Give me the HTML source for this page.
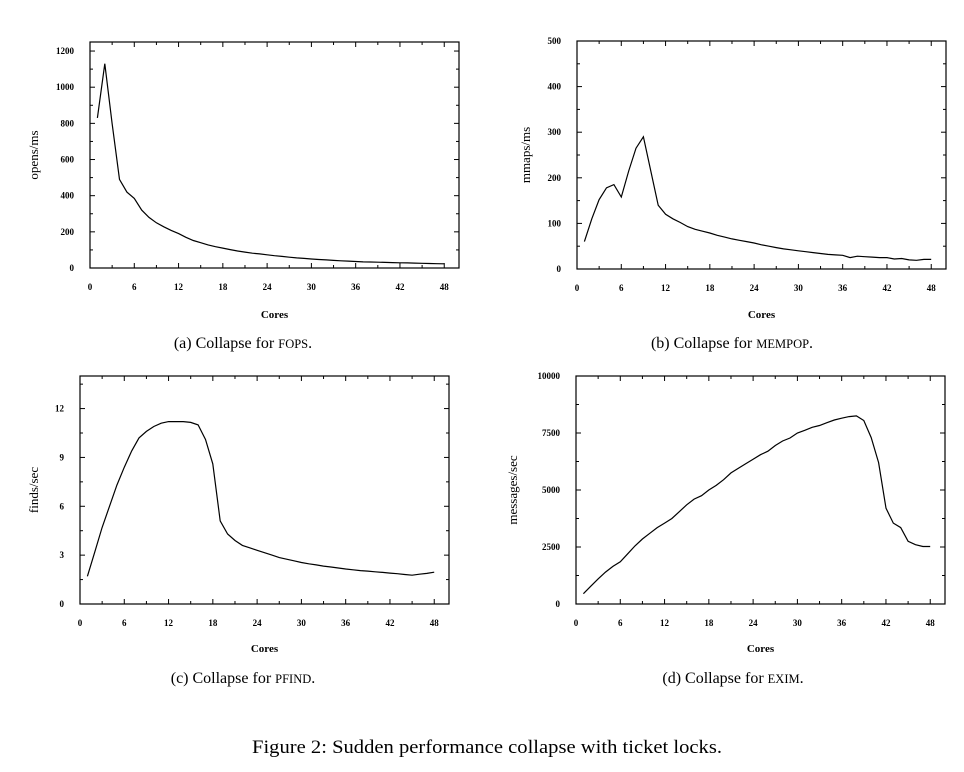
<!DOCTYPE html>
<html><head><meta charset="utf-8"><style>
html,body{margin:0;padding:0;background:#fff;}
svg{display:block;font-family:"Liberation Serif",serif;}
</style></head><body>
<svg id="fig" width="964" height="772" viewBox="0 0 964 772" xmlns="http://www.w3.org/2000/svg">
<text x="487" y="753" font-size="19" text-anchor="middle" textLength="470" lengthAdjust="spacingAndGlyphs">Figure 2: Sudden performance collapse with ticket locks.</text>
</svg>
<script>
const cores = [];
for (let i = 1; i <= 48; i++) cores.push(i);
const xTicks = [0, 6, 12, 18, 24, 30, 36, 42, 48];

const fopsValues = [830,1130,800,490,420,385,320,280,250,228,208,190,170,152,140,128,118,110,102,94,88,82,78,73,68,64,60,56,53,50,47,45,42,40,38,36,34,33,32,31,30,29,28,27,26,25,24,23];
const fopsYTicks = [0,200,400,600,800,1000,1200];

const mempopValues = [60,110,152,178,185,158,215,265,290,215,140,120,110,102,93,87,83,79,74,70,66,63,60,57,53,50,47,44,42,40,38,36,34,32,31,30,25,28,27,26,25,25,22,23,20,19,21,21];
const mempopYTicks = [0,100,200,300,400,500];

const pfindValues = [1.7,3.2,4.7,6.0,7.3,8.4,9.4,10.2,10.6,10.9,11.1,11.2,11.2,11.2,11.15,11.0,10.1,8.6,5.1,4.3,3.9,3.6,3.45,3.3,3.15,3.0,2.85,2.75,2.65,2.55,2.47,2.4,2.33,2.27,2.21,2.15,2.1,2.05,2.02,1.98,1.94,1.9,1.86,1.81,1.77,1.83,1.88,1.95];
const pfindYTicks = [0,3,6,9,12];

const eximValues = [450,780,1100,1400,1650,1850,2200,2550,2850,3100,3350,3550,3750,4050,4350,4600,4750,5000,5200,5450,5750,5950,6150,6350,6550,6700,6950,7150,7280,7500,7620,7750,7830,7950,8070,8150,8220,8250,8050,7300,6200,4200,3550,3350,2750,2600,2520,2520];
const eximYTicks = [0,2500,5000,7500,10000];

const NS = "http://www.w3.org/2000/svg";
const svg = document.getElementById('fig');
function mk(tag, attrs, parent) {
  const e = document.createElementNS(NS, tag);
  for (const k in attrs) e.setAttribute(k, attrs[k]);
  (parent || svg).appendChild(e);
  return e;
}

function chart(cfg) {
  const g = mk('g', {});
  
  
  const L = cfg.left, R = cfg.right, T = cfg.top, B = cfg.bottom;
  const xs = v => L + (v - 0) / 50 * (R - L);
  const ys = v => B - (v - 0) / cfg.ymax * (B - T);
  const frame = mk('rect', {x: L, y: T, width: R - L, height: B - T, fill: 'none', stroke: '#000', 'stroke-width': 1.2}, g);
  
  
  for (let v = 0; v <= 50; v += 3) {
    const major = v % 6 === 0;
    const len = major ? 5 : 3;
    const x = xs(v);
    mk('line', {x1: x, y1: B, x2: x, y2: B - len, stroke: '#000', 'stroke-width': 1}, g);
    mk('line', {x1: x, y1: T, x2: x, y2: T + len, stroke: '#000', 'stroke-width': 1}, g);
  }
  xTicks.forEach(v => {
    const t = mk('text', {x: xs(v), y: B + 22, 'font-size': 9, 'font-weight': 'bold', 'text-anchor': 'middle'}, g);
    t.textContent = v;
    
    
  });
  const yt = cfg.yTicks;
  const step = yt[1] - yt[0];
  for (let v = 0; v <= cfg.ymax + 1e-9; v += step / 2) {
    const major = Math.abs(v / step - Math.round(v / step)) < 1e-6;
    const len = major ? 5 : 3;
    const y = ys(v);
    mk('line', {x1: L, y1: y, x2: L + len, y2: y, stroke: '#000', 'stroke-width': 1}, g);
    mk('line', {x1: R, y1: y, x2: R - len, y2: y, stroke: '#000', 'stroke-width': 1}, g);
  }
  yt.forEach(v => {
    const t = mk('text', {x: L - 16, y: ys(v) + 3, 'font-size': 9, 'font-weight': 'bold', 'text-anchor': 'end'}, g);
    t.textContent = v;
    
    
  });
  let d = '';
  cores.forEach((c, i) => { d += (i ? 'L' : 'M') + xs(c).toFixed(1) + ',' + ys(cfg.values[i]).toFixed(1); });
  const p = mk('path', {d: d, fill: 'none', stroke: '#000', 'stroke-width': 1.2}, g);
  
  
  const xt = mk('text', {x: (L + R) / 2, y: cfg.coresY, 'font-size': 11, 'font-weight': 'bold', 'text-anchor': 'middle'}, g);
  xt.textContent = 'Cores';
  
  
  const cy = (T + B) / 2;
  const yl = mk('text', {x: cfg.ytitleX, y: cy, 'font-size': 13, 'text-anchor': 'middle', transform: 'rotate(-90 ' + cfg.ytitleX + ' ' + cy + ')'}, g);
  yl.textContent = cfg.ytitle;
  
  
  const cap = mk('text', {x: cfg.capX, y: cfg.capY, 'font-size': 16, 'text-anchor': 'middle'}, g);
  cap.innerHTML = cfg.caption;
  
  
}

chart({name: 'chart-fops', left: 90, right: 459, top: 42, bottom: 268, ymax: 1250, yTicks: fopsYTicks, values: fopsValues, ytitle: 'opens/ms', ytitleX: 38, coresY: 318, capX: 243, capY: 348, caption: '(a) Collapse for <tspan font-size="12.5">FOPS</tspan>.'});
chart({name: 'chart-mempop', left: 577, right: 946, top: 41, bottom: 269, ymax: 500, yTicks: mempopYTicks, values: mempopValues, ytitle: 'mmaps/ms', ytitleX: 530, coresY: 318, capX: 732, capY: 348, caption: '(b) Collapse for <tspan font-size="12.5">MEMPOP</tspan>.'});
chart({name: 'chart-pfind', left: 80, right: 449, top: 376, bottom: 604, ymax: 14, yTicks: pfindYTicks, values: pfindValues, ytitle: 'finds/sec', ytitleX: 38, coresY: 652, capX: 243, capY: 683, caption: '(c) Collapse for <tspan font-size="12.5">PFIND</tspan>.'});
chart({name: 'chart-exim', left: 576, right: 945, top: 376, bottom: 604, ymax: 10000, yTicks: eximYTicks, values: eximValues, ytitle: 'messages/sec', ytitleX: 517, coresY: 652, capX: 733, capY: 683, caption: '(d) Collapse for <tspan font-size="12.5">EXIM</tspan>.'});
</script>
</body></html>
